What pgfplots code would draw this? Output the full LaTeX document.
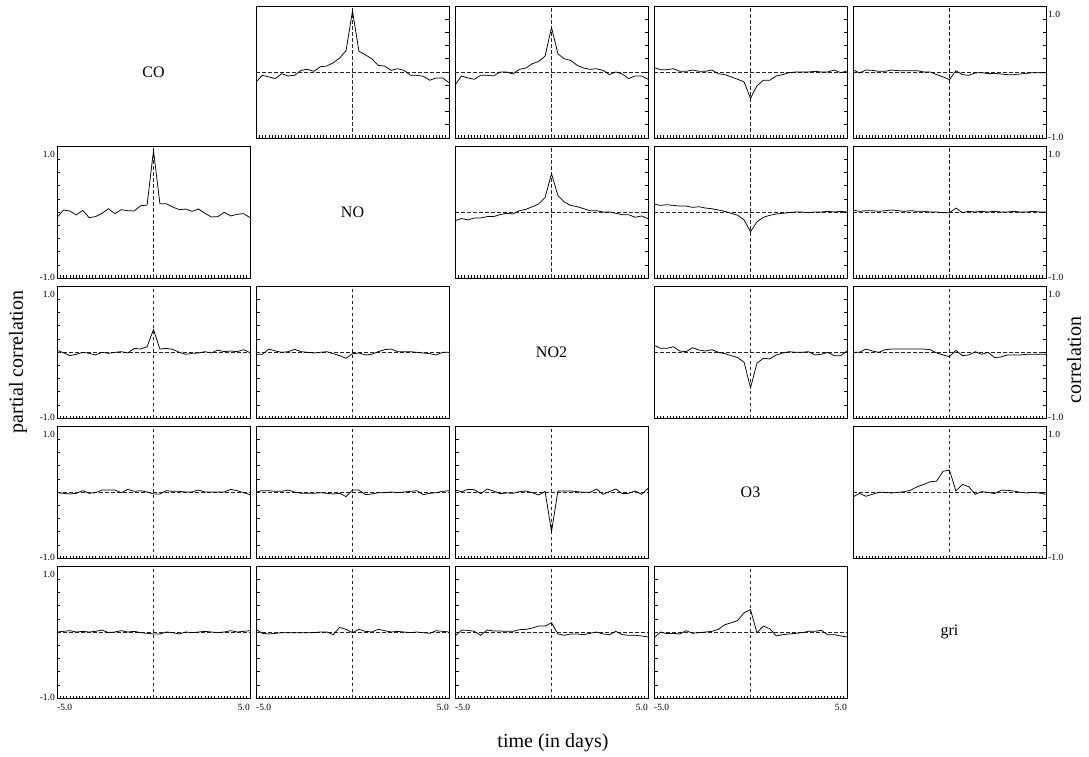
\documentclass[border=0pt]{standalone}
\usepackage{fontspec}
\setmainfont{Liberation Serif}
\usepackage{pgfplots}
\pgfplotsset{compat=1.18}
\usepackage{pgfplotstable}

\pgfplotstableread{
x c12 c13 c14 c15 c23 c24 c25 c34 c35 c45 p21 p31 p32 p41 p42 p43 p51 p52 p53 p54
-5 -0.15 -0.2 0.065 0.035 -0.13 0.12 0.03 0.105 -0.005 -0.075 -0.085 0.025 -0.035 -0.01 0.0 0.03 0.0 0.04 -0.06 -0.09
-4.667 -0.05 -0.06 0.035 -0.015 -0.1 0.1 0.01 0.055 -0.005 -0.02 0.03 -0.01 -0.035 -0.02 0.02 0.005 0.01 -0.02 0.025 0
-4.333 -0.075 -0.09 0.035 0.03 -0.12 0.11 0.02 0.055 0.045 -0.065 0.015 -0.055 0.045 -0.03 0.02 0.04 0.02 -0.03 0.025 -0.025
-4 -0.10 -0.11 0.05 0.025 -0.09 0.1 0.02 0.08 0.015 -0.035 -0.045 -0.035 0.015 -0.02 0.01 0.035 0.0 -0.02 0.01 -0.02
-3.667 -0.025 -0.05 0.01 0.01 -0.09 0.09 0.01 0.015 -0.005 -0.005 0.025 -0.005 -0.005 0.02 0.01 -0.025 0.01 -0.01 -0.05 -0.03
-3.333 -0.06 -0.05 0.01 0.01 -0.07 0.09 0.02 0.005 0.035 -0.005 -0.085 -0.02 0.005 -0.02 0.03 0.045 0.0 -0.01 0.03 0.02
-3 -0.05 -0.06 0.03 0.03 -0.07 0.07 0.03 0.065 0.045 -0.015 -0.07 -0.045 0.04 -0.01 0.0 0.015 0.01 -0.01 0.015 -0.02
-2.667 0.025 0 0.01 0.02 -0.04 0.08 0.02 0.03 0.045 -0.005 -0.02 -0.005 0.005 0.03 -0.02 -0.025 0.03 -0.01 0.015 -0.01
-2.333 0.04 0 0.01 0.02 -0.02 0.06 0.01 0.015 0.045 0.005 0.05 -0.02 -0.005 0.03 -0.02 -0.015 -0.01 -0.01 0.01 0
-2 0.01 -0.03 0.03 0.02 -0.03 0.05 0.02 0.035 0.045 0.03 -0.025 -0.005 -0.015 0.03 -0.02 -0.02 0.0 -0.01 0.01 0.01
-1.667 0.08 0.04 -0.025 0.02 0.02 0.03 0.01 -0.005 0.045 0.08 0.035 0.005 -0.005 -0.01 -0.01 0.005 0.02 0.0 0.035 0.04
-1.333 0.09 0.06 -0.04 0 0.04 0.01 0.01 -0.025 0.045 0.115 0.02 -0.015 0.005 0.04 -0.02 0.015 0.0 0.0 0.04 0.11
-1 0.14 0.125 -0.075 0 0.08 -0.02 0 -0.055 0.035 0.155 0.015 0.055 -0.025 0.01 -0.03 -0.01 0.01 -0.04 0.06 0.14
-0.667 0.21 0.16 -0.11 -0.04 0.12 -0.05 0 -0.085 -0.015 0.165 0.095 0.045 -0.055 0.02 -0.02 -0.045 -0.01 0.07 0.09 0.175
-0.333 0.325 0.24 -0.15 -0.075 0.22 -0.12 -0.01 -0.155 -0.045 0.315 0.105 0.08 -0.095 0.0 -0.07 0.01 -0.02 0.04 0.09 0.29
0 0.925 0.675 -0.40 -0.115 0.58 -0.3 -0.01 -0.545 -0.07 0.33 0.93 0.34 -0.025 -0.03 0.03 -0.6 -0.03 -0.01 0.14 0.34
0.333 0.315 0.275 -0.21 0.02 0.25 -0.15 0.06 -0.17 0.025 0.015 0.125 0.045 -0.015 -0.03 0.03 0.015 -0.03 0.04 -0.03 -0.01
0.667 0.26 0.20 -0.125 -0.04 0.15 -0.08 -0.01 -0.095 -0.055 0.115 0.125 0.055 -0.045 0.02 -0.04 0.015 0.0 0.01 -0.05 0.09
1 0.20 0.175 -0.125 -0.05 0.1 -0.05 0.01 -0.105 -0.045 0.08 0.075 0.04 -0.035 0.01 -0.03 0.015 -0.01 0.0 -0.03 0.05
1.333 0.10 0.10 -0.06 -0.015 0.08 -0.03 0 -0.045 0.005 -0.035 0.035 -0.005 0.005 0.01 -0.01 0.005 -0.03 0.04 -0.03 -0.06
1.667 0.09 0.06 -0.04 -0.01 0.05 -0.02 0.01 -0.015 -0.035 0.005 0.045 -0.035 0.035 0.0 -0.01 -0.005 0.0 0.02 -0.04 -0.04
2 0.025 0.04 -0.01 -0.025 0.02 -0.01 0 0.005 -0.005 -0.005 0.01 -0.02 0.045 0.0 0.0 -0.005 -0.01 0.0 -0.02 -0.03
2.333 0.05 0.05 0 -0.02 0.02 0 0.01 -0.005 -0.085 -0.025 0.045 -0.015 0.005 0.03 -0.01 0.045 0.0 0.01 0 -0.02
2.667 0.025 0.025 0 -0.03 0 0 0 -0.005 -0.075 0.025 -0.02 0.005 0.005 0.0 0.0 -0.035 0.01 0.0 -0.03 -0.01
3 -0.05 -0.04 0 -0.04 0 -0.01 0 0.005 -0.045 0.025 -0.075 -0.015 0.005 0.0 0.01 0.005 0.0 -0.01 -0.04 0.01
3.333 -0.05 0 0.01 -0.04 -0.02 0 0.01 -0.045 -0.045 0.015 -0.07 0.03 -0.005 0.0 0.02 0.045 -0.01 0.0 0.01 0.01
3.667 -0.065 -0.03 0 -0.03 -0.04 0 0 -0.035 -0.045 -0.005 -0.005 0.005 -0.015 0.0 -0.04 -0.025 0.0 -0.01 -0.04 0.025
4 -0.125 -0.10 0 -0.02 -0.04 0.01 0 -0.005 -0.035 -0.015 -0.06 0.015 -0.025 0.04 -0.02 -0.02 0.02 -0.02 -0.05 -0.04
4.333 -0.09 -0.06 0.03 -0.01 -0.08 0 0.01 -0.055 -0.035 -0.005 -0.035 0.005 -0.045 0.02 -0.01 0.015 0.0 0.02 -0.05 -0.04
4.667 -0.09 -0.06 -0.01 -0.01 -0.06 0.01 0 -0.055 -0.035 -0.015 -0.025 0.035 -0.005 -0.01 0.01 -0.035 0.01 0.01 -0.06 -0.06
5 -0.16 -0.11 0.015 -0.01 -0.1 0 0 0.015 -0.035 -0.035 -0.085 -0.01 -0.005 -0.04 0.02 0.055 0.02 0.0 -0.075 -0.075
}\data

\pgfplotsset{
  panel/.style={
    scale only axis, width=193pt, height=132pt, anchor=north west,
    xmin=-5, xmax=5, ymin=-1, ymax=1,
    xtick={-5,5}, minor x tick num=59, xtick pos=bottom,
    ytick={-0.8,-0.6,-0.4,-0.2,0,0.2,0.4,0.6,0.8},
    xticklabels={}, yticklabels={},
    tick align=inside,
    major tick length=3.5pt, minor tick length=2.5pt,
    tick style={black, line width=0.6pt},
    axis line style={black, line width=0.9pt},
  },
  lower/.style={panel, ytick pos=left},
  upper/.style={panel, ytick pos=right},
  dashline/.style={black!85, line width=0.7pt, dash pattern=on 3.5pt off 2.5pt, forget plot},
  curveline/.style={black, line width=0.75pt, no markers},
}
\newcommand\tl{\fontsize{9.5}{10}\selectfont}
\newcommand\panel[4]{%
  \begin{axis}[#1, at={(#2pt,-#3pt)}]
    \addplot[dashline] coordinates {(0,-1) (0,1)};
    \addplot[dashline] coordinates {(-5,0) (5,0)};
    \addplot[curveline] table[x=x,y=#4]{\data};
  \end{axis}}

\begin{document}
\begin{tikzpicture}
\useasboundingbox (0,0) rectangle (1089pt,-757pt);
% row 1
\panel{upper}{256}{6}{c12}
\panel{upper}{455}{6}{c13}
\panel{upper}{654}{6}{c14}
\panel{upper}{853}{6}{c15}
% row 2
\begin{axis}[lower, at={(57pt,-146pt)}]
  \addplot[dashline] coordinates {(0,-1) (0,1)};
  \addplot[curveline] table[x=x,y=p21]{\data};
\end{axis}
\panel{upper}{455}{146}{c23}
\panel{upper}{654}{146}{c24}
\panel{upper}{853}{146}{c25}
% row 3
\panel{lower}{57}{286}{p31}
\panel{lower}{256}{286}{p32}
\panel{upper}{654}{286}{c34}
\panel{upper}{853}{286}{c35}
% row 4
\panel{lower}{57}{426}{p41}
\panel{lower}{256}{426}{p42}
\panel{lower}{455}{426}{p43}
\panel{upper}{853}{426}{c45}
% row 5
\panel{lower}{57}{566}{p51}
\panel{lower}{256}{566}{p52}
\panel{lower}{455}{566}{p53}
\panel{lower}{654}{566}{p54}

% y tick labels, left column
\foreach \t in {146,286,426,566}{
  \node[anchor=east, inner sep=0pt, font=\tl] at (55pt,-\t pt-8pt) {1.0};
  \node[anchor=east, inner sep=0pt, font=\tl] at (55pt,-\t pt-131pt) {-1.0};
}
% y tick labels, right column
\foreach \t in {6,146,286,426}{
  \node[anchor=west, inner sep=0pt, font=\tl] at (1048pt,-\t pt-8pt) {1.0};
  \node[anchor=west, inner sep=0pt, font=\tl] at (1048pt,-\t pt-131pt) {-1.0};
}
% x tick labels, bottom row
\foreach \c in {57,256,455,654}{
  \node[anchor=west, inner sep=0pt, font=\tl] at (\c pt,-707pt) {-5.0};
  \node[anchor=east, inner sep=0pt, font=\tl] at (\c pt+193pt,-707pt) {5.0};
}
% diagonal names
\node[font=\fontsize{16}{18}\selectfont] at (153.5pt,-72pt) {CO};
\node[font=\fontsize{16}{18}\selectfont] at (352.5pt,-212pt) {NO};
\node[font=\fontsize{16}{18}\selectfont] at (551.5pt,-352pt) {NO2};
\node[font=\fontsize{16}{18}\selectfont] at (750.5pt,-492pt) {O3};
\node[font=\fontsize{16}{18}\selectfont] at (949.5pt,-632pt) {gri};
% axis titles
\node[rotate=90, font=\fontsize{20}{22}\selectfont] at (18pt,-362pt) {partial correlation};
\node[rotate=90, font=\fontsize{20}{22}\selectfont] at (1074pt,-360pt) {correlation};
\node[font=\fontsize{20}{22}\selectfont] at (553pt,-743pt) {time (in days)};
\end{tikzpicture}
\end{document}
